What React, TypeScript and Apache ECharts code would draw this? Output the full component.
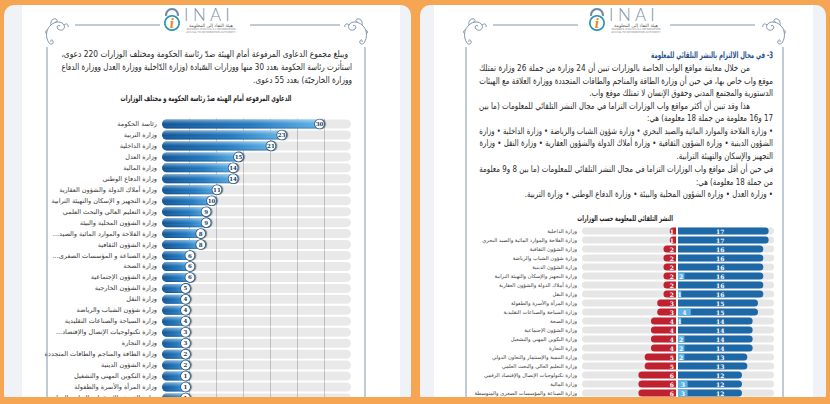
import React, { useEffect, useRef } from 'react';
import * as echarts from 'echarts';

const W = 830;
const H = 404;

// ---------- Left page: lawsuits chart ----------
const leftCategories = [
  'رئاسة الحكومة',
  'وزارة التربية',
  'وزارة الداخلية',
  'وزارة العدل',
  'وزارة المالية',
  'وزارة الدفاع الوطني',
  'وزارة أملاك الدولة والشؤون العقارية',
  'وزارة التجهيز و الإسكان والتهيئة الترابية',
  'وزارة التعليم العالي والبحث العلمي',
  'وزارة الشؤون المحلية والبيئة',
  'وزارة الفلاحة والموارد المائية والصيد...',
  'وزارة الشؤون الثقافية',
  'وزارة الصناعة و المؤسسات الصغرى...',
  'وزارة الصحة',
  'وزارة الشؤون الإجتماعية',
  'وزارة الشؤون الخارجية',
  'وزارة النقل',
  'وزارة شؤون الشباب والرياضة',
  'وزارة السياحة والصناعات التقليدية',
  'وزارة تكنولوجيات الإتصال والإقتصاد...',
  'وزارة التجارة',
  'وزارة الطاقة والمناجم والطاقات المتجددة',
  'وزارة الشؤون الدينية',
  'وزارة التكوين المهني والتشغيل',
  'وزارة المرأة والأسرة والطفولة',
  'وزارة التنمية والاستثمار والتعاون الدولي',
];
const leftValues = [30, 23, 21, 15, 14, 14, 11, 10, 9, 9, 8, 8, 6, 6, 6, 5, 4, 4, 4, 3, 3, 2, 2, 1, 1, 1];
const leftAxisMax = 35;
const leftAxisStep = 5;

// ---------- Right page: proactive publication chart ----------
const rightCategories = [
  'وزارة الداخلية',
  'وزارة الفلاحة والموارد المائية والصيد البحري',
  'وزارة الشؤون الثقافية',
  'وزارة شؤون الشباب والرياضة',
  'وزارة الشؤون الدينية',
  'وزارة التجهيز والإسكان والتهيئة الترابية',
  'وزارة أملاك الدولة والشؤون العقارية',
  'وزارة النقل',
  'وزارة المرأة والأسرة والطفولة',
  'وزارة السياحة والصناعات التقليدية',
  'وزارة الصحة',
  'وزارة الشؤون الإجتماعية',
  'وزارة التكوين المهني والتشغيل',
  'وزارة التجارة',
  'وزارة التنمية والإستثمار والتعاون الدولي',
  'وزارة التعليم العالي والبحث العلمي',
  'وزارة تكنولوجيات الإتصال والإقتصاد الرقمي',
  'وزارة المالية',
  'وزارة الصناعة والمؤسسات الصغرى والمتوسطة',
];
const notPublished = [1, 1, 2, 2, 2, 2, 2, 2, 3, 3, 4, 4, 4, 4, 5, 5, 6, 6, 6];
const published = [17, 17, 16, 16, 16, 16, 16, 16, 15, 15, 14, 14, 14, 14, 13, 13, 12, 12, 12];
const partlyPublished = [0, 0, 0, 0, 0, 2, 0, 1, 0, 4, 1, 0, 2, 2, 2, 0, 0, 3, 3];
const redAxisMax = 15;
const blueAxisMax = 18;
const lightAxisMax = 30;

// ---------- Texts ----------
const leftTitle = 'الدعاوي المرفوعة أمام الهيئة ضدّ رئاسة الحكومة و مختلف الوزارات';
const rightTitle = 'النشر التلقائي للمعلومة حسب الوزارات';
const rightHeading = '3- في مجال الالتزام بالنشر التلقائي للمعلومة';
const leftParagraph = [
  'ويبلغ مجموع الدعاوى المرفوعة أمام الهيئة ضدّ رئاسة الحكومة ومختلف الوزارات 220 دعوى،',
  'استأثرت رئاسة الحكومة بعدد 30 منها ووزارات السّيادة (وزارة الدّاخلية ووزارة العدل ووزارة الدفاع',
  'ووزارة الخارجيّة) بعدد 55 دعوى.',
];
const rightParagraph = [
  'من خلال معاينة مواقع الواب الخاصة بالوزارات تبين أن 24 وزارة من جملة 26 وزارة تمتلك',
  'موقع واب خاص بها، في حين أن وزارة الطاقة والمناجم والطاقات المتجددة ووزارة العلاقة مع الهيئات',
  'الدستورية والمجتمع المدني وحقوق الإنسان لا تمتلك موقع واب.',
  'هذا وقد تبين أن أكثر مواقع واب الوزارات التزاما في مجال النشر التلقائي للمعلومات (ما بين',
  '17 و16 معلومة من جملة 18 معلومة) هي:',
  '• وزارة الفلاحة والموارد المائية والصيد البحري • وزارة شؤون الشباب والرياضة • وزارة الداخلية • وزارة',
  'الشؤون الدينية • وزارة الشؤون الثقافية • وزارة أملاك الدولة والشؤون العقارية • وزارة النقل • وزارة',
  'التجهيز والإسكان والتهيئة الترابية.',
  'في حين أن أقل مواقع واب الوزارات التزاما في مجال النشر التلقائي للمعلومات (ما بين 8 و9 معلومة',
  'من جملة 18 معلومة) هي:',
  '• وزارة العدل • وزارة الشؤون المحلية والبيئة • وزارة الدفاع الوطني • وزارة التربية.',
];

const ARABIC = '"DejaVu Sans", sans-serif';
const ORANGE = '#F6A553';
const LINE = '#8196ab';

const ORN_PATH =
  'M5 27 C1 21 2 13 7 9 C11 5 18 5 20 9 C22 13 17 16 14 13 C12 11 14 8 16 10 ' +
  'M7 9 C6 5 9 2 12 3 C14 4 13 7 11 6 M5 27 C7 29 10 28 9 25 C8 23 6 24 7 26 ' +
  'M20 9 C22 7 25 8 24 11 M3 18 C1 17 1 15 3 14';
echarts.graphic.registerShape('ornament', echarts.graphic.extendPath(ORN_PATH, {}) as any);

const rtl = (s: string) => '\u202B' + s + '\u202C';

let mctx: CanvasRenderingContext2D | null = null;
function textWidth(s: string, size: number, weight = 'normal', family = ARABIC) {
  if (!mctx) mctx = document.createElement('canvas').getContext('2d');
  if (!mctx) return s.length * size * 0.5;
  mctx.font = `${weight} ${size}px ${family}`;
  return mctx.measureText(s).width;
}

type LineSpec = { text: string; y: number; right: number; left?: number };

function paragraph(lines: LineSpec[], size: number, color: string, weight = 'normal') {
  const scales = lines
    .filter((l) => l.left !== undefined)
    .map((l) => ((l.right - (l.left as number)) / textWidth(l.text, size, weight)));
  const avg = scales.length ? scales.reduce((a, b) => a + b, 0) / scales.length : 1;
  return lines.map((l) => {
    const w = textWidth(l.text, size, weight);
    const sx = l.left !== undefined ? (l.right - l.left) / w : avg;
    return {
      type: 'text',
      x: l.right,
      y: l.y,
      scaleX: sx,
      z: 5,
      style: {
        text: rtl(l.text),
        fontSize: size,
        fontFamily: ARABIC,
        fontWeight: weight,
        fill: color,
        textAlign: 'right',
        textVerticalAlign: 'middle',
      },
    };
  });
}

function centeredTitle(text: string, cx: number, y: number, width: number, size: number) {
  const w = textWidth(text, size, 'bold');
  return {
    type: 'text',
    x: cx,
    y,
    scaleX: width / w,
    z: 5,
    style: {
      text: rtl(text),
      fontSize: size,
      fontFamily: ARABIC,
      fontWeight: 'bold',
      fill: '#1e1e1e',
      textAlign: 'center',
      textVerticalAlign: 'middle',
    },
  };
}

function pageFrame(o: { lockX: number; lineA: [number, number]; lineB: [number, number]; ornL: number; ornR: number; borderL: number; borderR: number }) {
  const els: any[] = [];
  const cx = o.lockX + 9;
  els.push({ type: 'line', shape: { x1: o.lineA[0], y1: 25, x2: o.lineA[1], y2: 25 }, style: { stroke: LINE, lineWidth: 1 }, z: 4 });
  els.push({ type: 'line', shape: { x1: o.lineB[0], y1: 25, x2: o.lineB[1], y2: 25 }, style: { stroke: LINE, lineWidth: 1 }, z: 4 });
  els.push({ type: 'ornament', x: o.ornL, y: 16, style: { fill: 'none', stroke: LINE, lineWidth: 1 }, z: 4 });
  els.push({ type: 'ornament', x: o.ornR, y: 16, scaleX: -1, style: { fill: 'none', stroke: LINE, lineWidth: 1 }, z: 4 });
  els.push({ type: 'line', shape: { x1: o.borderL, y1: 47, x2: o.borderL, y2: 404 }, style: { stroke: LINE, lineWidth: 1 }, z: 4 });
  els.push({ type: 'line', shape: { x1: o.borderR, y1: 47, x2: o.borderR, y2: 404 }, style: { stroke: LINE, lineWidth: 1 }, z: 4 });
  // logo
  els.push({ type: 'arc', shape: { cx, cy: 15, r: 6, startAngle: Math.PI * 0.95, endAngle: Math.PI * 2.05 }, style: { stroke: '#6f8aa2', lineWidth: 2.2, fill: 'none' }, z: 4 });
  els.push({ type: 'ring', shape: { cx, cy: 23, r: 8, r0: 6.2 }, style: { fill: '#2b98b2' }, z: 4 });
  els.push({ type: 'circle', shape: { cx, cy: 23, r: 6.2 }, style: { fill: '#ffffff' }, z: 4 });
  els.push({ type: 'text', x: cx, y: 23.5, z: 5, style: { text: 'i', fontSize: 12, fontWeight: 'bold', fontStyle: 'italic', fontFamily: 'DejaVu Serif', fill: '#ef8a22', textAlign: 'center', textVerticalAlign: 'middle' } });
  els.push({ type: 'text', x: o.lockX + 21, y: 14, z: 5, style: { text: 'I N A I', fontSize: 17, fontFamily: 'Lato', fontWeight: 300, fill: '#7891a8', textAlign: 'left', textVerticalAlign: 'middle' } });
  els.push({ type: 'text', x: o.lockX + 48, y: 25.5, z: 5, style: { text: rtl('هيئة النفاذ إلى المعلومة'), fontSize: 4.5, fontFamily: ARABIC, fill: '#555', textAlign: 'center', textVerticalAlign: 'middle' } });
  els.push({ type: 'text', x: o.lockX + 48, y: 29.5, z: 5, style: { text: "INSTANCE D'ACCES A L'INFORMATION", fontSize: 2.6, fontFamily: 'DejaVu Sans', fill: '#8a8a8a', textAlign: 'center', textVerticalAlign: 'middle' } });
  els.push({ type: 'text', x: o.lockX + 48, y: 32.5, z: 5, style: { text: 'ACCESS TO INFORMATION AUTHORITY', fontSize: 2.6, fontFamily: 'DejaVu Sans', fill: '#8a8a8a', textAlign: 'center', textVerticalAlign: 'middle' } });
  return els;
}

function buildOption(): any {
  const graphics: any[] = [];
  // cards (below axes and series)
  graphics.push({ type: 'rect', shape: { x: 4, y: 5, width: 407, height: 400, r: 10 }, style: { fill: '#eff2f7' }, z: -10 });
  graphics.push({ type: 'rect', shape: { x: 22, y: 5, width: 378, height: 400 }, style: { fill: '#ffffff' }, z: -9 });
  graphics.push({ type: 'rect', shape: { x: 420, y: 5, width: 406, height: 400, r: 10 }, style: { fill: '#eff2f7' }, z: -10 });
  graphics.push({ type: 'rect', shape: { x: 434, y: 5, width: 379, height: 400 }, style: { fill: '#ffffff' }, z: -9 });

  graphics.push(...pageFrame({ lockX: 163, lineA: [75, 160], lineB: [250, 340], ornL: 44, ornR: 369, borderL: 47, borderR: 365 }));
  graphics.push(...pageFrame({ lockX: 588, lineA: [493, 578], lineB: [670, 755], ornL: 462, ornR: 787, borderL: 466, borderR: 783 }));

  graphics.push(
    ...paragraph(
      [
        { text: leftParagraph[0], y: 54, right: 348, left: 61 },
        { text: leftParagraph[1], y: 67, right: 352, left: 61 },
        { text: leftParagraph[2], y: 80, right: 352 },
      ],
      9,
      '#2a2a2a'
    )
  );
  graphics.push(centeredTitle(leftTitle, 206, 99, 171, 8));

  graphics.push(...paragraph([{ text: rightHeading, y: 55, right: 773, left: 651 }], 9, '#1f4f8d', 'bold'));
  const ry = [68, 81, 93, 106, 118, 131, 143, 156, 169, 182, 194];
  const rr = [750, 773, 773, 750, 773, 773, 773, 773, 773, 773, 773];
  const rl: (number | undefined)[] = [479, 479, undefined, 479, undefined, 479, 479, undefined, 479, undefined, undefined];
  graphics.push(
    ...paragraph(
      rightParagraph.map((t, i) => ({ text: t, y: ry[i], right: rr[i], left: rl[i] })),
      9,
      '#2a2a2a'
    )
  );
  graphics.push(centeredTitle(rightTitle, 625, 219, 96, 8));

  // bottom orange strip over the cards
  graphics.push({ type: 'rect', shape: { x: 0, y: 397, width: W, height: 7 }, style: { fill: ORANGE }, z: 100 });

  const leftGrad = new echarts.graphic.LinearGradient(0, 0, 1, 0, [
    { offset: 0, color: '#0c5396' },
    { offset: 0.55, color: '#1f78c0' },
    { offset: 1, color: '#63b6ea' },
  ]);
  const gloss = new echarts.graphic.LinearGradient(0, 0, 0, 1, [
    { offset: 0, color: 'rgba(255,255,255,0.45)' },
    { offset: 0.4, color: 'rgba(255,255,255,0.08)' },
    { offset: 0.6, color: 'rgba(255,255,255,0)' },
    { offset: 1, color: 'rgba(0,25,70,0.28)' },
  ]);

  const rowL = 10.96;
  const rowR = 9.0;

  return {
    animation: false,
    backgroundColor: ORANGE,
    graphic: { elements: graphics },
    grid: [
      { left: 162, top: 124 - rowL / 2, width: 189, height: rowL * leftCategories.length },
      { left: 582, top: 231 - rowR / 2, width: 94, height: rowR * rightCategories.length },
      { left: 678, top: 231 - rowR / 2, width: 96, height: rowR * rightCategories.length },
    ],
    xAxis: [
      {
        gridIndex: 0, type: 'value', min: 0, max: leftAxisMax, interval: leftAxisStep,
        axisLabel: { show: false }, axisLine: { show: false }, axisTick: { show: false },
        splitLine: { show: true, showMinLine: false, showMaxLine: false, lineStyle: { color: '#cfcfcf', width: 1 } },
      },
      { gridIndex: 1, type: 'value', min: 0, max: redAxisMax, inverse: true, show: false, splitLine: { show: false } },
      { gridIndex: 2, type: 'value', min: 0, max: blueAxisMax, show: false, splitLine: { show: false } },
      { gridIndex: 2, type: 'value', min: 0, max: lightAxisMax, show: false, splitLine: { show: false } },
    ],
    yAxis: [
      {
        gridIndex: 0, type: 'category', data: leftCategories, inverse: true,
        axisLine: { show: false }, axisTick: { show: false },
        axisLabel: { interval: 0, fontSize: 6.5, color: '#3a3a3a', margin: 5, fontFamily: ARABIC, formatter: (v: string) => rtl(v) },
      },
      {
        gridIndex: 1, type: 'category', data: rightCategories, inverse: true,
        axisLine: { show: false }, axisTick: { show: false },
        axisLabel: { interval: 0, fontSize: 5.2, color: '#3a3a3a', margin: 5, fontFamily: ARABIC, formatter: (v: string) => rtl(v) },
      },
      { gridIndex: 2, type: 'category', data: rightCategories, inverse: true, show: false },
    ],
    series: [
      {
        type: 'bar', xAxisIndex: 0, yAxisIndex: 0, data: leftValues, barWidth: 9, barMinHeight: 28,
        showBackground: true, backgroundStyle: { color: 'rgba(0,0,0,0.085)', borderRadius: 4.5 },
        itemStyle: { color: leftGrad, borderRadius: 4.5 },
        z: 2,
      },
      {
        type: 'bar', xAxisIndex: 0, yAxisIndex: 0, data: leftValues, barWidth: 9, barMinHeight: 28, barGap: '-100%',
        itemStyle: { color: gloss, borderRadius: 4.5 }, silent: true, z: 3,
        label: {
          show: true, position: 'insideRight', distance: 4.5, align: 'center', verticalAlign: 'middle',
          formatter: '{c}', color: '#163a63', fontSize: 5.5, fontWeight: 'bold', fontFamily: 'DejaVu Serif',
          backgroundColor: '#ffffff', borderColor: '#2a5884', borderWidth: 0.8, borderRadius: 5,
          width: 9, height: 9, lineHeight: 9, padding: 0,
          shadowColor: 'rgba(0,0,0,0.45)', shadowBlur: 1, shadowOffsetX: 1.2,
        },
      },
      {
        type: 'bar', xAxisIndex: 1, yAxisIndex: 1, data: notPublished, barWidth: 7,
        showBackground: true, backgroundStyle: { color: '#e6e6e6', borderRadius: [3.5, 0, 0, 3.5] },
        itemStyle: { color: '#c0212e', borderRadius: [3.5, 0, 0, 3.5] },
        label: { show: true, position: 'insideRight', distance: 2, color: '#fff', fontSize: 6, fontWeight: 'bold', fontFamily: 'DejaVu Serif' },
      },
      {
        type: 'bar', xAxisIndex: 2, yAxisIndex: 2, data: published, barWidth: 7, barGap: '-100%',
        showBackground: true, backgroundStyle: { color: '#e6e6e6', borderRadius: [0, 3.5, 3.5, 0] },
        itemStyle: { color: '#1d69a8', borderRadius: [0, 3.5, 3.5, 0] },
        label: { show: true, position: 'insideLeft', distance: 38, color: '#fff', fontSize: 6, fontWeight: 'bold', fontFamily: 'DejaVu Serif' },
        z: 2,
      },
      {
        type: 'bar', xAxisIndex: 3, yAxisIndex: 2, data: partlyPublished.map((v) => (v > 0 ? v : '-')), barWidth: 7, barGap: '-100%',
        itemStyle: { color: '#5cb3e6' },
        label: { show: true, position: 'inside', color: '#fff', fontSize: 6, fontWeight: 'bold', fontFamily: 'DejaVu Serif' },
        z: 3,
      },
    ],
  };
}

export default function App() {
  const ref = useRef<HTMLDivElement>(null);
  useEffect(() => {
    if (!ref.current) return;
    const chart = echarts.init(ref.current, null, { renderer: 'svg', width: W, height: H });
    chart.setOption(buildOption());
    return () => chart.dispose();
  }, []);
  return <div ref={ref} style={{ position: 'fixed', left: 0, top: 0, width: W, height: H }} />;
}
